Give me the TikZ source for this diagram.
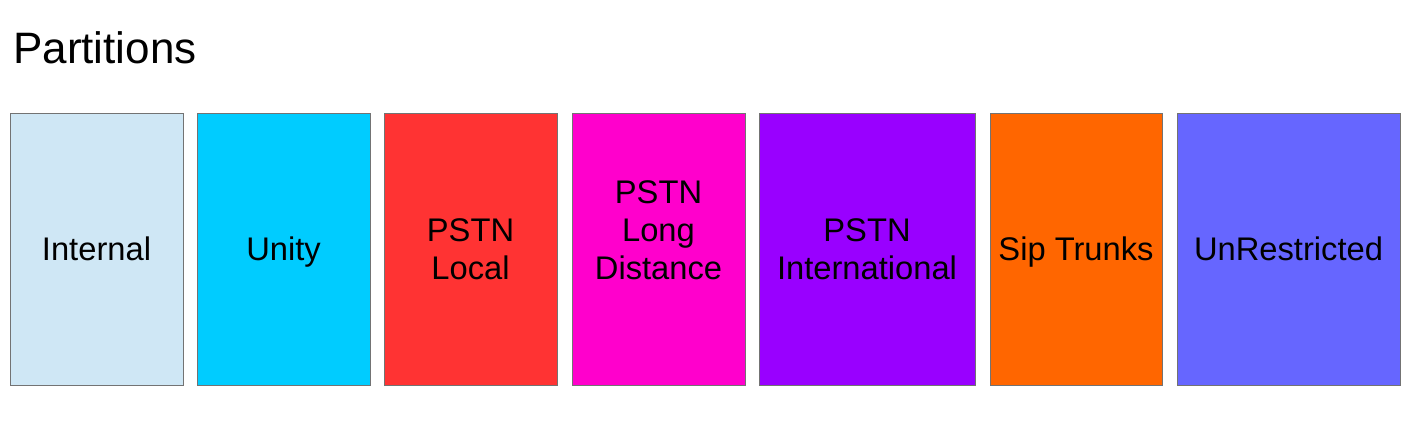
\documentclass[tikz,border=0pt]{standalone}
\usepackage{fontspec}
\setmainfont{Liberation Sans}
\begin{document}
\begin{tikzpicture}[x=1pt,y=-1pt,
  part/.style={draw=gray!90!black, line width=1pt, inner sep=0pt, align=center,
    font=\fontsize{32.7}{38}\selectfont},
  lbl/.style={inner sep=0pt, align=center, font=\fontsize{32.7}{38}\selectfont},
  title/.style={anchor=base west, inner sep=0pt, font=\fontsize{44}{50}\selectfont}]
\useasboundingbox (0,0) rectangle (1423,426);
\definecolor{cInternal}{HTML}{CFE7F5}
\definecolor{cUnity}{HTML}{00CCFF}
\definecolor{cLocal}{HTML}{FF3333}
\definecolor{cLong}{HTML}{FF00CC}
\definecolor{cIntl}{HTML}{9900FF}
\definecolor{cSip}{HTML}{FF6600}
\definecolor{cUnr}{HTML}{6666FF}
\node[title] (t) at (13,63) {Partitions};
\node[part, fill=cInternal, minimum width=173pt, minimum height=272pt] (b1) at (96.5,249) {Internal};
\node[part, fill=cUnity, minimum width=173pt, minimum height=272pt, text depth=0pt] (b2) at (283.5,249) {Unity};
\node[part, fill=cLocal, minimum width=173pt, minimum height=272pt] (b3) at (470.5,249) {PSTN\\ Local};
\node[part, fill=cLong, minimum width=173pt, minimum height=272pt] (b4) at (658.5,249) {};
\node[lbl] (l4) at (658.5,230) {PSTN\\ Long\\ Distance};
\node[part, fill=cIntl, minimum width=216pt, minimum height=272pt] (b5) at (867,249) {PSTN\\ International};
\node[part, fill=cSip, minimum width=172pt, minimum height=272pt, text depth=0pt] (b6) at (1076,249) {Sip Trunks};
\node[part, fill=cUnr, minimum width=223pt, minimum height=272pt] (b7) at (1288.5,249) {UnRestricted};
\end{tikzpicture}
\end{document}
